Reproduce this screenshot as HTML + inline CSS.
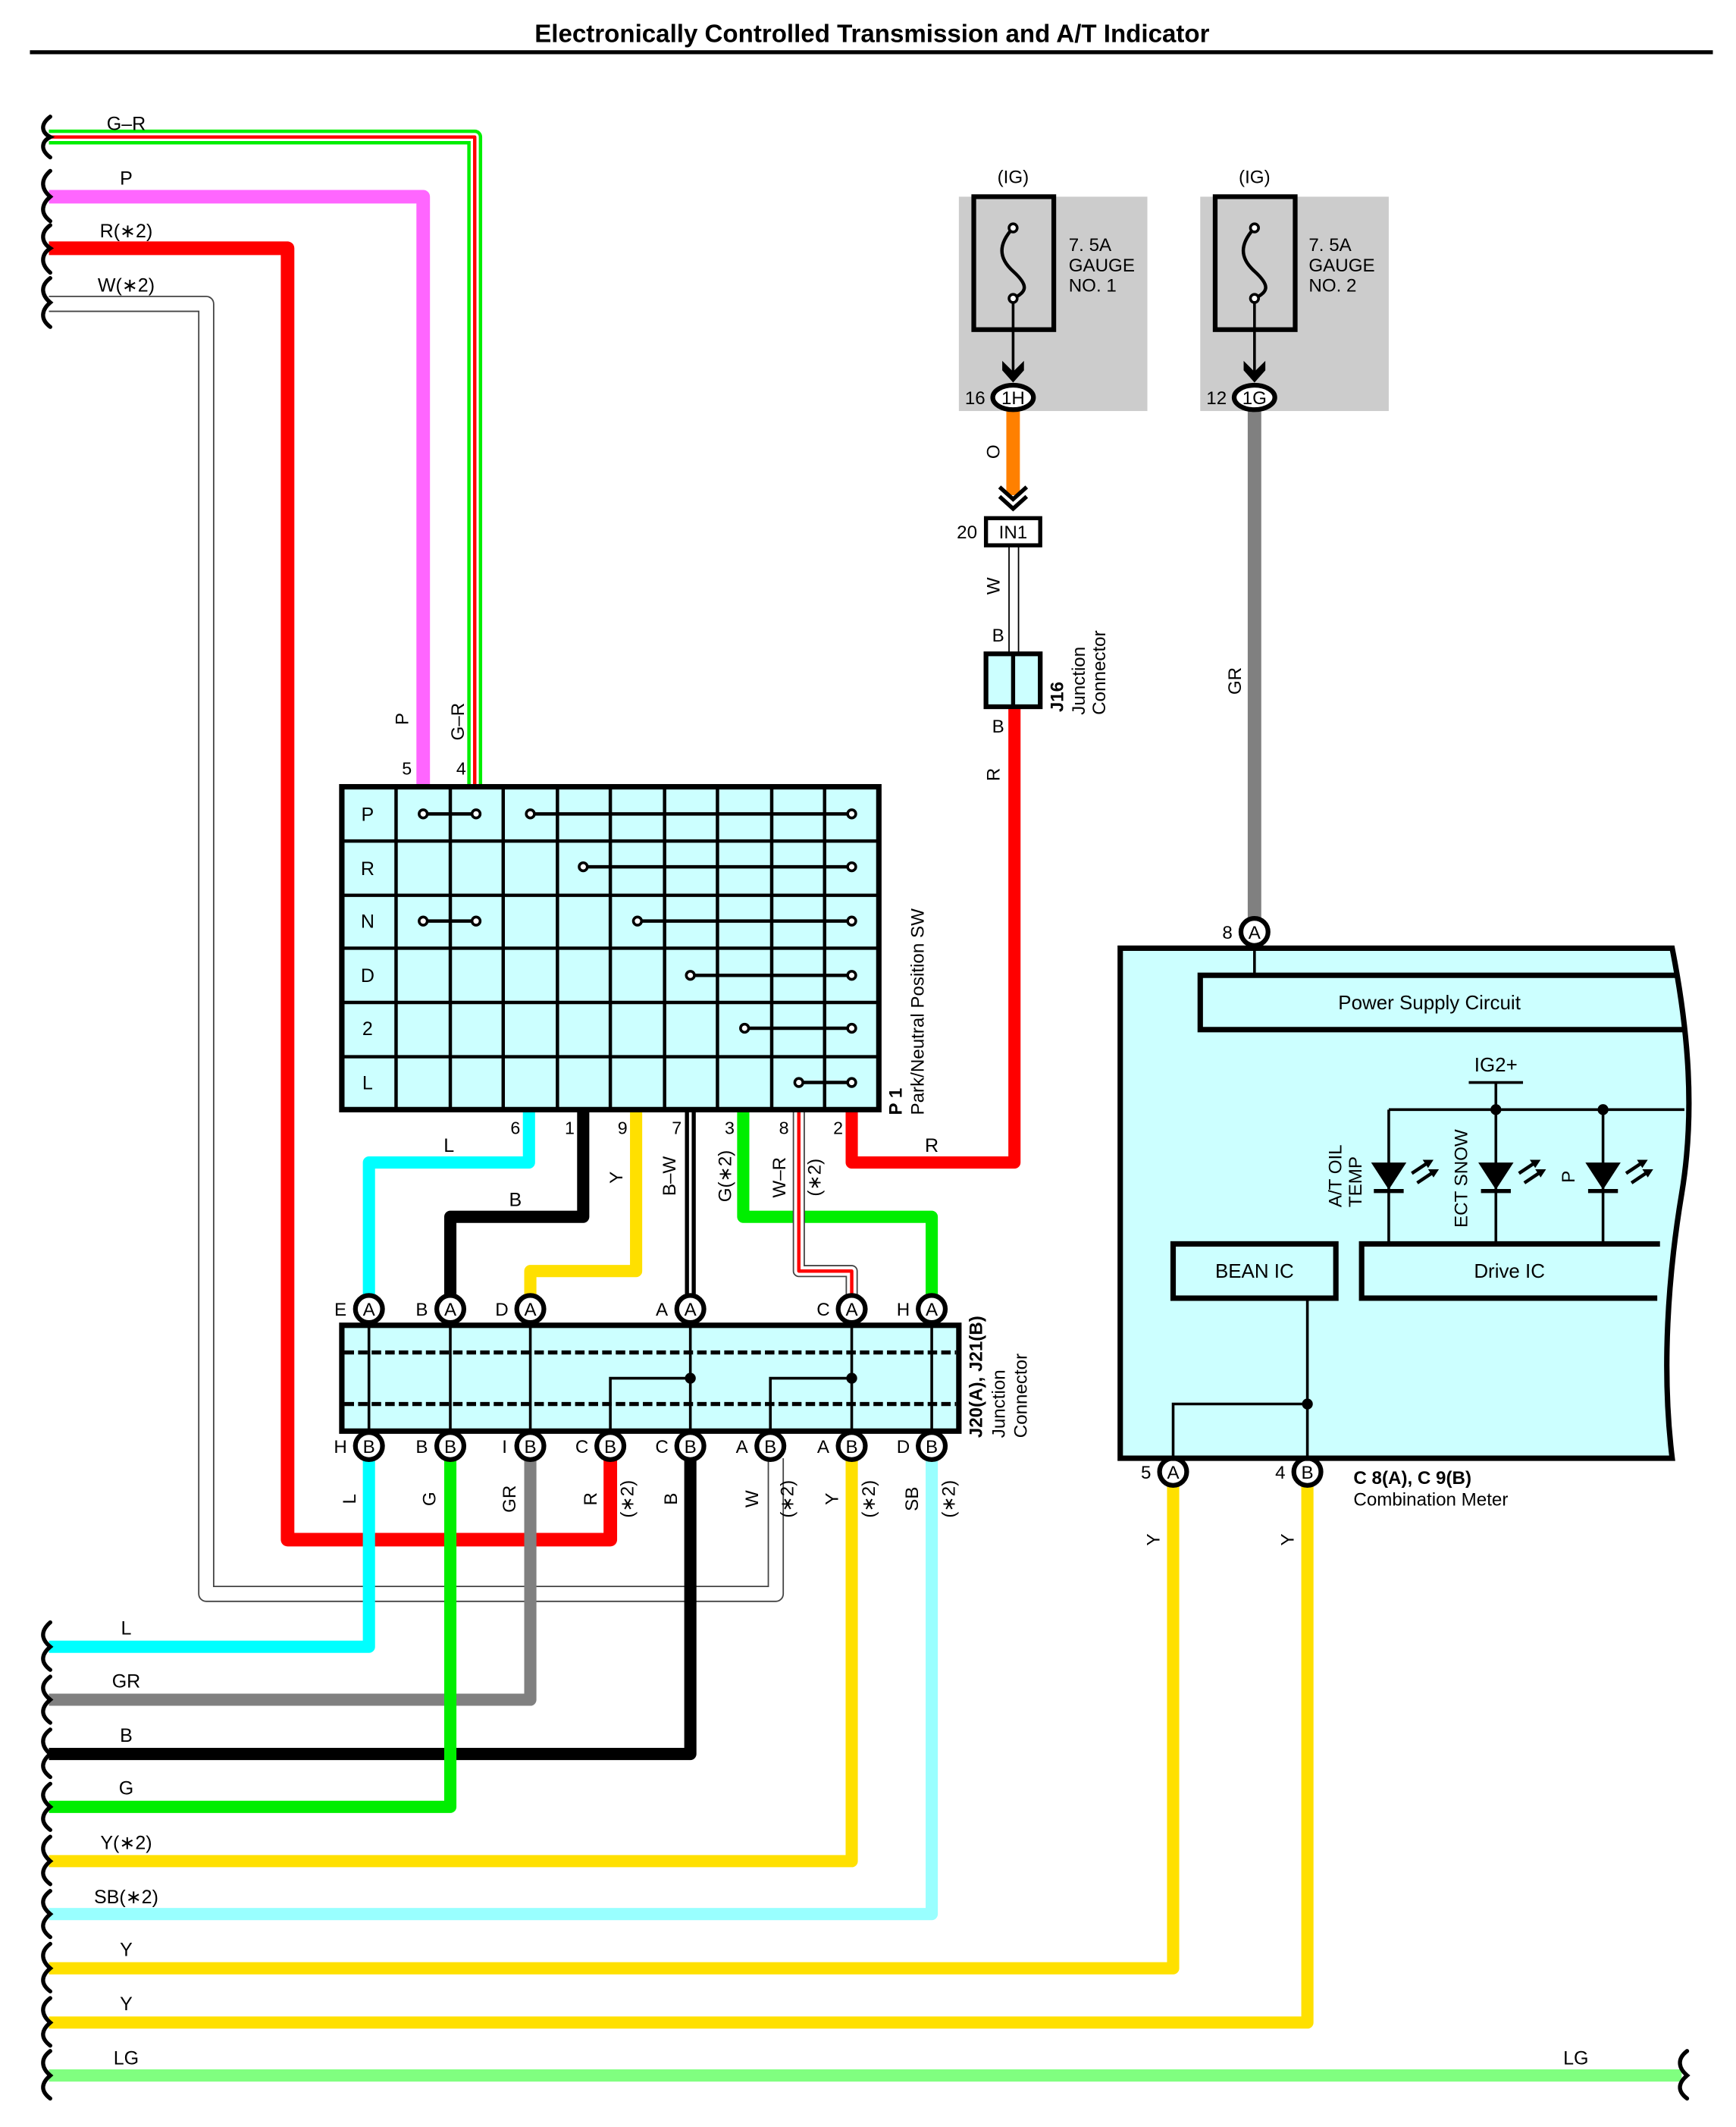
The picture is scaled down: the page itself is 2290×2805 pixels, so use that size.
<!DOCTYPE html>
<html><head><meta charset="utf-8"><style>
html,body{margin:0;padding:0;background:#fff}
svg{display:block}
text{font-family:"Liberation Sans",sans-serif;fill:#000}
</style></head><body>
<svg width="2290" height="2805" viewBox="0 0 1280 1568" xmlns="http://www.w3.org/2000/svg">
<rect width="1280" height="1568" fill="#fff"/>
<text x="643" y="31" font-size="18.5" font-weight="bold" text-anchor="middle">Electronically Controlled Transmission and A/T Indicator</text>
<line x1="22" y1="38.5" x2="1263" y2="38.5" stroke="#000" stroke-width="3"/>

<g fill="none" stroke-linejoin="round" stroke-linecap="butt">
<polyline points="36,101 350,101 350,580" stroke="#00ee00" stroke-width="11"/>
<polyline points="36,101 350,101 350,580" stroke="#fff" stroke-width="6"/>
<polyline points="36,101 350,101 350,580" stroke="#ff0000" stroke-width="2.5"/>
<polyline points="36,145 312,145 312,580" stroke="#ff66ff" stroke-width="10"/>
<polyline points="36,183 212,183 212,1135 450,1135 450,1075" stroke="#ff0000" stroke-width="10"/>
<polyline points="36,224 152,224 152,1175 572,1175 572,1075" stroke="#444" stroke-width="12"/>
<polyline points="36,224 152,224 152,1175 572,1175 572,1075" stroke="#fff" stroke-width="10"/>
<polyline points="36,1214 272,1214 272,1075" stroke="#00ffff" stroke-width="9"/>
<polyline points="36,1253 391,1253 391,1075" stroke="#808080" stroke-width="9"/>
<polyline points="36,1293 509,1293 509,1075" stroke="#000" stroke-width="9"/>
<polyline points="36,1332 332,1332 332,1075" stroke="#00ee00" stroke-width="9"/>
<polyline points="36,1372 628,1372 628,1075" stroke="#ffe000" stroke-width="9"/>
<polyline points="36,1411 687,1411 687,1075" stroke="#99ffff" stroke-width="9"/>
<polyline points="36,1451 865,1451 865,1095" stroke="#ffe000" stroke-width="9"/>
<polyline points="36,1491 964,1491 964,1095" stroke="#ffe000" stroke-width="9"/>
<polyline points="36,1530 1240,1530" stroke="#80ff80" stroke-width="9"/>
<polyline points="390,818 390,857 272,857 272,965" stroke="#00ffff" stroke-width="9"/>
<polyline points="430,818 430,897 332,897 332,965" stroke="#000" stroke-width="9"/>
<polyline points="469,818 469,937 391,937 391,965" stroke="#ffe000" stroke-width="9"/>
<polyline points="509,818 509,965" stroke="#000" stroke-width="8"/>
<polyline points="509,818 509,965" stroke="#fff" stroke-width="2"/>
<polyline points="548,818 548,897 687,897 687,965" stroke="#00ee00" stroke-width="9"/>
<polyline points="589,818 589,937 628,937 628,965" stroke="#444" stroke-width="9"/>
<polyline points="589,818 589,937 628,937 628,965" stroke="#fff" stroke-width="7"/>
<polyline points="589,818 589,937 628,937 628,965" stroke="#ff0000" stroke-width="2.5"/>
<polyline points="628,818 628,857 748,857 748,521" stroke="#ff0000" stroke-width="9"/>
<line x1="747" y1="303" x2="747" y2="365" stroke="#ff8000" stroke-width="10"/>
<line x1="744" y1="402" x2="744" y2="482" stroke="#000" stroke-width="1"/>
<line x1="751" y1="402" x2="751" y2="482" stroke="#000" stroke-width="1"/>
<line x1="925" y1="303" x2="925" y2="687" stroke="#808080" stroke-width="10"/>
</g>

<g fill="none" stroke="#000" stroke-width="3" stroke-linecap="round">
<path d="M37,86 C29,92 31,98 37,101 C31,104 29,110 37,116"/>
<path d="M37,126 C29,133 31,140 37,145 C31,150 29,157 37,163"/>
<path d="M37,166 C29,172 31,179 37,183 C31,187 29,194 37,201"/>
<path d="M37,205 C29,211 31,218 37,223 C31,228 29,235 37,241"/>
<path d="M37,1196 C29,1203 31,1209 37,1214 C31,1219 29,1225 37,1231"/>
<path d="M37,1236 C29,1242 31,1248 37,1253 C31,1258 29,1264 37,1270"/>
<path d="M37,1275 C29,1281 31,1288 37,1293 C31,1298 29,1304 37,1310"/>
<path d="M37,1315 C29,1321 31,1327 37,1332 C31,1337 29,1343 37,1349"/>
<path d="M37,1354 C29,1360 31,1367 37,1372 C31,1377 29,1383 37,1389"/>
<path d="M37,1394 C29,1400 31,1406 37,1411 C31,1416 29,1422 37,1428"/>
<path d="M37,1433 C29,1439 31,1446 37,1451 C31,1456 29,1462 37,1468"/>
<path d="M37,1473 C29,1479 31,1486 37,1491 C31,1496 29,1502 37,1508"/>
<path d="M37,1512 C29,1518 31,1525 37,1530 C31,1535 29,1541 37,1547"/>
<path d="M1244,1512 C1236,1518 1238,1525 1244,1530 C1238,1535 1236,1541 1244,1547"/>
</g>

<g font-size="14" text-anchor="middle">
<text x="93" y="96">G–R</text><text x="93" y="136">P</text><text x="93" y="175">R(∗2)</text><text x="93" y="215">W(∗2)</text>
<text x="93" y="1205">L</text><text x="93" y="1244">GR</text><text x="93" y="1284">B</text><text x="93" y="1323">G</text>
<text x="93" y="1363">Y(∗2)</text><text x="93" y="1403">SB(∗2)</text><text x="93" y="1442">Y</text><text x="93" y="1482">Y</text>
<text x="93" y="1522">LG</text><text x="1162" y="1522">LG</text>
<text x="331" y="849">L</text><text x="380" y="889">B</text><text x="687" y="849">R</text>
</g>
<g font-size="13" text-anchor="middle">
<text x="300" y="571">5</text><text x="340" y="571">4</text>
<text x="380" y="836">6</text><text x="420" y="836">1</text><text x="459" y="836">9</text><text x="499" y="836">7</text><text x="538" y="836">3</text><text x="578" y="836">8</text><text x="618" y="836">2</text>
</g>
<g font-size="13.5" text-anchor="middle">
<text transform="translate(301,530) rotate(-90)">P</text>
<text transform="translate(342,532) rotate(-90)">G–R</text>
<text transform="translate(459,868) rotate(-90)">Y</text>
<text transform="translate(498,867) rotate(-90)">B–W</text>
<text transform="translate(539,867) rotate(-90)">G(∗2)</text>
<text transform="translate(579,868) rotate(-90)">W–R</text>
<text transform="translate(605,868) rotate(-90)">(∗2)</text>
<text transform="translate(262,1105) rotate(-90)">L</text>
<text transform="translate(321,1105) rotate(-90)">G</text>
<text transform="translate(380,1105) rotate(-90)">GR</text>
<text transform="translate(440,1105) rotate(-90)">R</text>
<text transform="translate(467,1105) rotate(-90)">(∗2)</text>
<text transform="translate(499,1105) rotate(-90)">B</text>
<text transform="translate(559,1105) rotate(-90)">W</text>
<text transform="translate(585,1105) rotate(-90)">(∗2)</text>
<text transform="translate(618,1105) rotate(-90)">Y</text>
<text transform="translate(645,1105) rotate(-90)">(∗2)</text>
<text transform="translate(677,1105) rotate(-90)">SB</text>
<text transform="translate(704,1105) rotate(-90)">(∗2)</text>
<text transform="translate(855,1135) rotate(-90)">Y</text>
<text transform="translate(954,1135) rotate(-90)">Y</text>
<text transform="translate(737,333) rotate(-90)">O</text>
<text transform="translate(737,432) rotate(-90)">W</text>
<text transform="translate(737,571) rotate(-90)">R</text>
<text transform="translate(915,502) rotate(-90)">GR</text>
</g>

<rect x="252" y="580" width="396" height="238" fill="#ccffff" stroke="#000" stroke-width="4"/>
<g stroke="#000" stroke-width="2.5">
<line x1="292" y1="580" x2="292" y2="818"/><line x1="332" y1="580" x2="332" y2="818"/><line x1="371" y1="580" x2="371" y2="818"/>
<line x1="411" y1="580" x2="411" y2="818"/><line x1="450" y1="580" x2="450" y2="818"/><line x1="490" y1="580" x2="490" y2="818"/>
<line x1="529" y1="580" x2="529" y2="818"/><line x1="569" y1="580" x2="569" y2="818"/><line x1="608" y1="580" x2="608" y2="818"/>
<line x1="252" y1="620" x2="648" y2="620"/><line x1="252" y1="660" x2="648" y2="660"/><line x1="252" y1="699" x2="648" y2="699"/>
<line x1="252" y1="739" x2="648" y2="739"/><line x1="252" y1="779" x2="648" y2="779"/>
<line x1="312" y1="600" x2="351" y2="600"/><line x1="391" y1="600" x2="628" y2="600"/>
<line x1="430" y1="639" x2="628" y2="639"/>
<line x1="312" y1="679" x2="351" y2="679"/><line x1="470" y1="679" x2="628" y2="679"/>
<line x1="509" y1="719" x2="628" y2="719"/><line x1="549" y1="758" x2="628" y2="758"/><line x1="589" y1="798" x2="628" y2="798"/>
</g>
<g fill="#fff" stroke="#000" stroke-width="2">
<circle cx="312" cy="600" r="3"/><circle cx="351" cy="600" r="3"/><circle cx="391" cy="600" r="3"/><circle cx="628" cy="600" r="3"/>
<circle cx="430" cy="639" r="3"/><circle cx="628" cy="639" r="3"/>
<circle cx="312" cy="679" r="3"/><circle cx="351" cy="679" r="3"/><circle cx="470" cy="679" r="3"/><circle cx="628" cy="679" r="3"/>
<circle cx="509" cy="719" r="3"/><circle cx="628" cy="719" r="3"/>
<circle cx="549" cy="758" r="3"/><circle cx="628" cy="758" r="3"/>
<circle cx="589" cy="798" r="3"/><circle cx="628" cy="798" r="3"/>
</g>
<g font-size="14" text-anchor="middle">
<text x="271" y="605">P</text><text x="271" y="645">R</text><text x="271" y="684">N</text><text x="271" y="724">D</text><text x="271" y="763">2</text><text x="271" y="803">L</text>
</g>
<text transform="translate(665,822) rotate(-90)" font-size="13.5" font-weight="bold">P 1</text>
<text transform="translate(681,822) rotate(-90)" font-size="13.5">Park/Neutral Position SW</text>

<rect x="252" y="977" width="455" height="78" fill="#ccffff" stroke="#000" stroke-width="4"/>
<g stroke="#000" stroke-width="3" stroke-dasharray="7,3"><line x1="254" y1="997" x2="705" y2="997"/><line x1="254" y1="1035" x2="705" y2="1035"/></g>
<g stroke="#000" stroke-width="2" fill="none">
<line x1="272" y1="965" x2="272" y2="1066"/><line x1="332" y1="965" x2="332" y2="1066"/><line x1="391" y1="965" x2="391" y2="1066"/>
<line x1="509" y1="965" x2="509" y2="1066"/><line x1="628" y1="965" x2="628" y2="1066"/><line x1="687" y1="965" x2="687" y2="1066"/>
<polyline points="509,1016 450,1016 450,1066"/><polyline points="628,1016 568,1016 568,1066"/>
</g>
<circle cx="509" cy="1016" r="4"/><circle cx="628" cy="1016" r="4"/>
<g fill="#fff" stroke="#000" stroke-width="3.5">
<circle cx="272" cy="965" r="10"/><circle cx="332" cy="965" r="10"/><circle cx="391" cy="965" r="10"/><circle cx="509" cy="965" r="10"/><circle cx="628" cy="965" r="10"/><circle cx="687" cy="965" r="10"/>
<circle cx="272" cy="1066" r="10"/><circle cx="332" cy="1066" r="10"/><circle cx="391" cy="1066" r="10"/><circle cx="450" cy="1066" r="10"/><circle cx="509" cy="1066" r="10"/><circle cx="568" cy="1066" r="10"/><circle cx="628" cy="1066" r="10"/><circle cx="687" cy="1066" r="10"/>
<circle cx="925" cy="687" r="10"/><circle cx="865" cy="1085" r="10"/><circle cx="964" cy="1085" r="10"/>
</g>
<g font-size="13.5" text-anchor="middle">
<text x="272" y="970">A</text><text x="332" y="970">A</text><text x="391" y="970">A</text><text x="509" y="970">A</text><text x="628" y="970">A</text><text x="687" y="970">A</text>
<text x="272" y="1071">B</text><text x="332" y="1071">B</text><text x="391" y="1071">B</text><text x="450" y="1071">B</text><text x="509" y="1071">B</text><text x="568" y="1071">B</text><text x="628" y="1071">B</text><text x="687" y="1071">B</text>
<text x="925" y="692">A</text><text x="865" y="1090">A</text><text x="964" y="1090">B</text>
<text x="251" y="970">E</text><text x="311" y="970">B</text><text x="370" y="970">D</text><text x="488" y="970">A</text><text x="607" y="970">C</text><text x="666" y="970">H</text>
<text x="251" y="1071">H</text><text x="311" y="1071">B</text><text x="372" y="1071">I</text><text x="429" y="1071">C</text><text x="488" y="1071">C</text><text x="547" y="1071">A</text><text x="607" y="1071">A</text><text x="666" y="1071">D</text>
<text x="905" y="692">8</text><text x="845" y="1090">5</text><text x="944" y="1090">4</text>
</g>
<text transform="translate(724,1060) rotate(-90)" font-size="13.5" font-weight="bold">J20(A), J21(B)</text>
<text transform="translate(741,1060) rotate(-90)" font-size="13.5">Junction</text>
<text transform="translate(757,1060) rotate(-90)" font-size="13.5">Connector</text>

<rect x="707" y="145" width="139" height="158" fill="#cccccc"/>
<rect x="718" y="145" width="59" height="98" fill="none" stroke="#000" stroke-width="3.5"/>
<path d="M747,168 C736,180 736,190 747,200 C758,210 758,215 747,220" fill="none" stroke="#000" stroke-width="2.5"/>
<circle cx="747" cy="168" r="3" fill="#fff" stroke="#000" stroke-width="2"/><circle cx="747" cy="220" r="3" fill="#fff" stroke="#000" stroke-width="2"/>
<line x1="747" y1="223" x2="747" y2="275" stroke="#000" stroke-width="2"/>
<path d="M739,266 L747,274 L755,266 L755,273 L747,282 L739,273Z" fill="#000"/>
<ellipse cx="747" cy="293" rx="15" ry="9" fill="#fff" stroke="#000" stroke-width="3.5"/>
<text x="747" y="298" font-size="13.5" text-anchor="middle">1H</text>
<text x="719" y="298" font-size="13.5" text-anchor="middle">16</text>
<text x="747" y="135" font-size="13.5" text-anchor="middle">(IG)</text>
<g font-size="13.5"><text x="788" y="185">7. 5A</text><text x="788" y="200">GAUGE</text><text x="788" y="215">NO. 1</text></g>
<path d="M737,359 L747,368 L757,359 M737,366 L747,375 L757,366" fill="none" stroke="#000" stroke-width="3"/>
<rect x="727" y="382" width="40" height="20" fill="#fff" stroke="#000" stroke-width="3"/>
<text x="747" y="397" font-size="13.5" text-anchor="middle">IN1</text>
<text x="713" y="397" font-size="13.5" text-anchor="middle">20</text>
<text x="736" y="473" font-size="13.5" text-anchor="middle">B</text>
<text x="736" y="540" font-size="13.5" text-anchor="middle">B</text>
<rect x="727" y="482" width="40" height="39" fill="#ccffff" stroke="#000" stroke-width="3.5"/>
<line x1="747" y1="482" x2="747" y2="521" stroke="#000" stroke-width="3"/>
<text transform="translate(784,525) rotate(-90)" font-size="13.5" font-weight="bold">J16</text>
<text transform="translate(800,527) rotate(-90)" font-size="13.5">Junction</text>
<text transform="translate(815,527) rotate(-90)" font-size="13.5">Connector</text>

<rect x="885" y="145" width="139" height="158" fill="#cccccc"/>
<rect x="896" y="145" width="59" height="98" fill="none" stroke="#000" stroke-width="3.5"/>
<path d="M925,168 C914,180 914,190 925,200 C936,210 936,215 925,220" fill="none" stroke="#000" stroke-width="2.5"/>
<circle cx="925" cy="168" r="3" fill="#fff" stroke="#000" stroke-width="2"/><circle cx="925" cy="220" r="3" fill="#fff" stroke="#000" stroke-width="2"/>
<line x1="925" y1="223" x2="925" y2="275" stroke="#000" stroke-width="2"/>
<path d="M917,266 L925,274 L933,266 L933,273 L925,282 L917,273Z" fill="#000"/>
<ellipse cx="925" cy="293" rx="15" ry="9" fill="#fff" stroke="#000" stroke-width="3.5"/>
<text x="925" y="298" font-size="13.5" text-anchor="middle">1G</text>
<text x="897" y="298" font-size="13.5" text-anchor="middle">12</text>
<text x="925" y="135" font-size="13.5" text-anchor="middle">(IG)</text>
<g font-size="13.5"><text x="965" y="185">7. 5A</text><text x="965" y="200">GAUGE</text><text x="965" y="215">NO. 2</text></g>

<path d="M826,699 L1233,699 C1245,760 1250,820 1240,880 C1230,940 1225,1010 1233,1075 L826,1075 Z" fill="#ccffff" stroke="#000" stroke-width="4"/>
<path d="M1237,719 L885,719 L885,759 L1242,759" fill="none" stroke="#000" stroke-width="4"/>
<text x="1054" y="744" font-size="14.5" text-anchor="middle">Power Supply Circuit</text>
<line x1="925" y1="697" x2="925" y2="719" stroke="#000" stroke-width="2"/>
<text x="1103" y="790" font-size="14.5" text-anchor="middle">IG2+</text>
<g stroke="#000" stroke-width="2" fill="none">
<line x1="1083" y1="798" x2="1123" y2="798"/><line x1="1103" y1="798" x2="1103" y2="818"/>
<line x1="1024" y1="818" x2="1242" y2="818"/>
<line x1="1024" y1="818" x2="1024" y2="917"/><line x1="1103" y1="818" x2="1103" y2="917"/><line x1="1182" y1="818" x2="1182" y2="917"/>
<line x1="964" y1="957" x2="964" y2="1075"/>
<polyline points="865,1075 865,1035 964,1035"/>
</g>
<circle cx="1103" cy="818" r="4"/><circle cx="1182" cy="818" r="4"/><circle cx="964" cy="1035" r="4"/>
<g stroke="#000" stroke-width="3">
<line x1="1013" y1="878" x2="1035" y2="878"/><line x1="1092" y1="878" x2="1114" y2="878"/><line x1="1171" y1="878" x2="1193" y2="878"/>
</g>
<path d="M1011,857 L1037,857 L1024,877Z M1090,857 L1116,857 L1103,877Z M1169,857 L1195,857 L1182,877Z"/>
<g stroke="#000" stroke-width="2.5">
<line x1="1041" y1="865" x2="1053" y2="857"/><line x1="1045" y1="872" x2="1057" y2="864"/>
<line x1="1120" y1="865" x2="1132" y2="857"/><line x1="1124" y1="872" x2="1136" y2="864"/>
<line x1="1199" y1="865" x2="1211" y2="857"/><line x1="1203" y1="872" x2="1215" y2="864"/>
</g>
<path d="M1049,855 L1057,855 L1053,861Z M1053,862 L1061,862 L1057,868Z M1128,855 L1136,855 L1132,861Z M1132,862 L1140,862 L1136,868Z M1207,855 L1215,855 L1211,861Z M1211,862 L1219,862 L1215,868Z"/>
<text transform="translate(989,890) rotate(-90)" font-size="13.5">A/T OIL</text>
<text transform="translate(1004,890) rotate(-90)" font-size="13.5">TEMP</text>
<text transform="translate(1082,905) rotate(-90)" font-size="13.5">ECT SNOW</text>
<text transform="translate(1161,872) rotate(-90)" font-size="13.5">P</text>
<rect x="865" y="917" width="120" height="40" fill="none" stroke="#000" stroke-width="4"/>
<text x="925" y="942" font-size="14.5" text-anchor="middle">BEAN IC</text>
<path d="M1224,917 L1004,917 L1004,957 L1222,957" fill="none" stroke="#000" stroke-width="4"/>
<text x="1113" y="942" font-size="14.5" text-anchor="middle">Drive IC</text>
<text x="998" y="1094" font-size="13.5" font-weight="bold">C 8(A), C 9(B)</text>
<text x="998" y="1110" font-size="13.5">Combination Meter</text>
</svg>
</body></html>
